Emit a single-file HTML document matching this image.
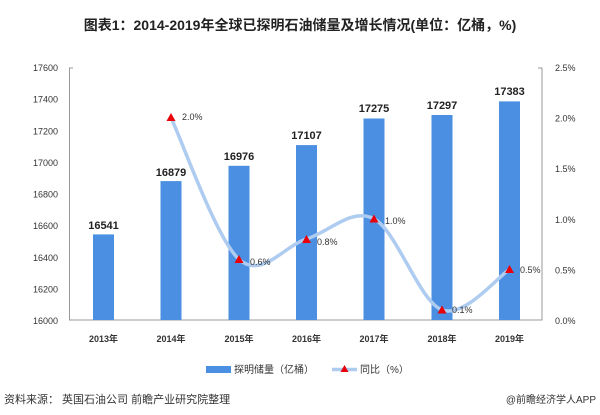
<!DOCTYPE html><html><head><meta charset="utf-8"><style>body{margin:0;background:#fff}svg text{font-family:"Liberation Sans","Noto Sans CJK SC",sans-serif}</style></head><body>
<svg width="600" height="410" viewBox="0 0 600 410" xmlns="http://www.w3.org/2000/svg">
<rect width="600" height="410" fill="#fff"/>
<text x="300" y="30" text-anchor="middle" font-size="14" font-weight="bold" fill="#222">图表1：2014-2019年全球已探明石油储量及增长情况(单位：亿桶，%)</text>
<g stroke="#999" fill="none" stroke-width="1"><path d="M73 68 H69.5 V320 H542 V68 H538"/></g>
<g font-size="9" fill="#333" text-anchor="end">
<text x="58" y="71">17600</text><text x="58" y="102.6">17400</text><text x="58" y="134.3">17200</text><text x="58" y="165.9">17000</text><text x="58" y="197.5">16800</text><text x="58" y="229.1">16600</text><text x="58" y="260.8">16400</text><text x="58" y="292.4">16200</text><text x="58" y="324">16000</text></g>
<g font-size="9" fill="#333"><text x="555" y="71">2.5%</text><text x="555" y="121.6">2.0%</text><text x="555" y="172.2">1.5%</text><text x="555" y="222.8">1.0%</text><text x="555" y="273.4">0.5%</text><text x="555" y="324">0.0%</text></g>
<g fill="#4a8fe2">
<rect x="93" y="234.4" width="21" height="85.6"/><rect x="160.5" y="181.1" width="21" height="138.9"/><rect x="228.5" y="165.8" width="21" height="154.2"/><rect x="296" y="145.1" width="21" height="174.9"/><rect x="363.5" y="118.5" width="21" height="201.5"/><rect x="431.5" y="115" width="21" height="205"/><rect x="499" y="101.4" width="21" height="218.6"/></g>
<g font-size="11" font-weight="bold" fill="#222" text-anchor="middle">
<text x="103.5" y="229">16541</text><text x="171" y="176">16879</text><text x="239" y="160">16976</text><text x="306.5" y="139">17107</text><text x="374" y="112">17275</text><text x="442" y="109">17297</text><text x="509.5" y="95">17383</text></g>
<path d="M171 117.6 C182.3 141.2 216.4 239.1 239 259.3 C261.6 279.5 284 245.8 306.5 239 C329 232.3 351.4 207 374 218.8 C396.6 230.6 419.4 301.5 442 309.9 C464.6 318.3 498.25 276.2 509.5 269.4" fill="none" stroke="#aecbf0" stroke-width="3.5" stroke-linecap="round"/>
<g fill="#e8000b">
<path d="M171 113 l4.5 8 h-9z"/><path d="M239 255 l4.5 8 h-9z"/><path d="M306.5 235 l4.5 8 h-9z"/><path d="M374 214.5 l4.5 8 h-9z"/><path d="M442 305.5 l4.5 8 h-9z"/><path d="M509.5 265 l4.5 8 h-9z"/></g>
<g font-size="9" fill="#333"><text x="182" y="120">2.0%</text><text x="250" y="265">0.6%</text><text x="317" y="245">0.8%</text><text x="385" y="224">1.0%</text><text x="452" y="313">0.1%</text><text x="520" y="273">0.5%</text></g>
<g font-size="9" font-weight="bold" fill="#333" text-anchor="middle">
<text x="103.5" y="342">2013年</text><text x="171" y="342">2014年</text><text x="239" y="342">2015年</text><text x="306.5" y="342">2016年</text><text x="374" y="342">2017年</text><text x="442" y="342">2018年</text><text x="509.5" y="342">2019年</text></g>
<rect x="206" y="366" width="25" height="7" fill="#4a8fe2"/>
<text x="234" y="373" font-size="10" fill="#333">探明储量（亿桶）</text>
<line x1="332" y1="369.5" x2="357" y2="369.5" stroke="#aecbf0" stroke-width="3.5"/>
<path d="M344.5 365 l4 7 h-8z" fill="#e8000b"/>
<text x="360" y="373" font-size="10" fill="#333">同比（%）</text>
<text x="4" y="403" font-size="11" fill="#333">资料来源： 英国石油公司 前瞻产业研究院整理</text>
<text x="596" y="403" font-size="10" fill="#333" text-anchor="end">@前瞻经济学人APP</text>
</svg></body></html>
